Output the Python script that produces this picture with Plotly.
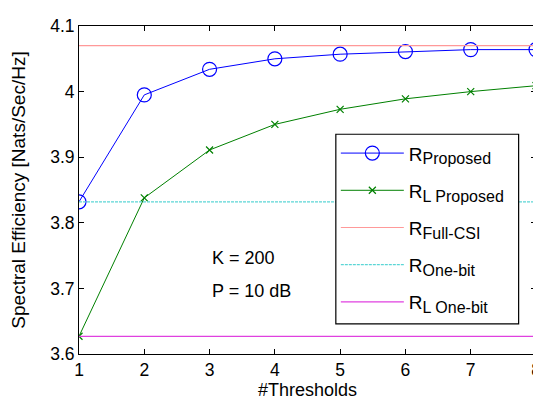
import plotly.graph_objects as go

thresholds = [1, 2, 3, 4, 5, 6, 7, 8]
r_proposed = [3.832, 3.995, 4.034, 4.050, 4.057, 4.061, 4.064, 4.064]
r_l_proposed = [3.627, 3.838, 3.911, 3.950, 3.973, 3.989, 4.000, 4.009]
r_full_csi = 4.070
r_one_bit = 3.832
r_l_one_bit = 3.627

x_ticks = [1, 2, 3, 4, 5, 6, 7, 8]
y_ticks = [3.6, 3.7, 3.8, 3.9, 4.0, 4.1]
y_tick_labels = ["3.6", "3.7", "3.8", "3.9", "4", "4.1"]

FONT = "Liberation Sans, Arial, sans-serif"


def leg(sub):
    return "R<sub><span style='font-size:16px'>%s</span></sub>" % sub


fig = go.Figure()
fig.add_trace(go.Scatter(
    x=thresholds, y=r_proposed, mode="lines+markers",
    name=leg("Proposed"), legendgroup="a",
    line=dict(color="#0000FF", width=1),
    marker=dict(symbol="circle-open", size=14, color="#0000FF", line=dict(width=1.2)),
))
fig.add_trace(go.Scatter(
    x=thresholds, y=r_l_proposed, mode="lines+markers",
    name=leg("L Proposed"), legendgroup="b",
    line=dict(color="#008000", width=1),
    marker=dict(symbol="x-thin-open", size=7, color="#008000", line=dict(width=1.2, color="#008000")),
))
fig.add_trace(go.Scatter(
    x=[thresholds[0], thresholds[-1]], y=[r_full_csi, r_full_csi], mode="lines",
    name=leg("Full-CSI"), legendgroup="c",
    line=dict(color="#FF9999", width=1.2),
))
fig.add_trace(go.Scatter(
    x=[thresholds[0], thresholds[-1]], y=[r_one_bit, r_one_bit], mode="lines",
    name=leg("One-bit"), legendgroup="d",
    line=dict(color="#5CD6D6", width=1.2, dash="3px,1px"),
))
fig.add_trace(go.Scatter(
    x=[thresholds[0], thresholds[-1]], y=[r_l_one_bit, r_l_one_bit], mode="lines",
    name=leg("L One-bit"), legendgroup="e",
    line=dict(color="#E040E0", width=1.2),
))

fig.add_annotation(x=3.0, y=3.746, text="K = 200", showarrow=False,
                   xanchor="left", yanchor="middle", font=dict(size=18, color="black", family=FONT))
fig.add_annotation(x=3.0, y=3.696, text="P = 10 dB", showarrow=False,
                   xanchor="left", yanchor="middle", font=dict(size=18, color="black", family=FONT))

# legend frame (white box with black border, drawn over the data lines)
fig.add_shape(type="rect", xref="paper", yref="paper",
              x0=0.562, x1=0.962, y0=0.092, y1=0.67,
              fillcolor="white", line=dict(color="black", width=1.2), layer="above")

axis_common = dict(
    showgrid=False, zeroline=False,
    showline=True, linecolor="black", linewidth=1,
    mirror="ticks", ticks="inside", ticklen=5, tickwidth=1, tickcolor="black",
    tickfont=dict(size=17.5, color="black", family=FONT),
)

fig.update_layout(
    width=541, height=398,
    margin=dict(l=71, r=8, t=18, b=52),
    paper_bgcolor="white", plot_bgcolor="white",
    font=dict(family=FONT, color="black"),
    showlegend=True,
    legend=dict(
        x=0.562, y=0.67, xanchor="left", yanchor="top",
        bgcolor="rgba(0,0,0,0)", borderwidth=0,
        font=dict(size=19, color="black", family=FONT),
        tracegroupgap=9.5, itemwidth=63,
    ),
    xaxis=dict(
        range=[1, 8], tickvals=x_ticks,
        title=dict(text="#Thresholds", font=dict(size=18, color="black", family=FONT), standoff=1),
        **axis_common,
    ),
    yaxis=dict(
        range=[3.6, 4.1], tickvals=y_ticks, ticktext=y_tick_labels,
        title=dict(text="Spectral Efficiency [Nats/Sec/Hz]", font=dict(size=19, color="black", family=FONT), standoff=20),
        **axis_common,
    ),
)

fig.write_html("out.html")
